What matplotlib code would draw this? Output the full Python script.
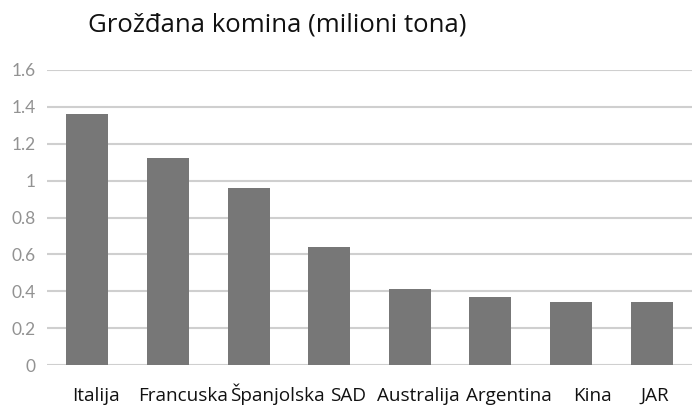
import matplotlib
matplotlib.use("Agg")
import matplotlib.pyplot as plt
import numpy as np

countries = ["Italija", "Francuska", "Španjolska", "SAD", "Australija",
             "Argentina", "Kina", "JAR"]
values = [1.36, 1.12, 0.96, 0.64, 0.41, 0.37, 0.34, 0.34]
y_ticks = [0, 0.2, 0.4, 0.6, 0.8, 1, 1.2, 1.4, 1.6]
y_tick_labels = ["0", "0.2", "0.4", "0.6", "0.8", "1", "1.2", "1.4", "1.6"]
title = "Grožđana komina (milioni tona)"

# category labels in the original sit a bit right of the bar centres
label_shift = [0.11, 0.19, 0.36, 0.23, 0.11, 0.23, 0.26, 0.04]

fig = plt.figure(figsize=(6.92, 4.05), dpi=100)
ax = fig.add_axes([47 / 692, 40 / 405, 645 / 692, 295 / 405])

x = np.arange(len(countries))
ax.bar(x, values, width=0.52, color="#777777", zorder=3)

ax.set_xlim(-0.5, len(countries) - 0.5)
ax.set_ylim(0, 1.6)
ax.set_yticks(y_ticks)
ax.set_yticklabels(y_tick_labels, fontfamily="Lato", fontsize=12.5, color="#929292")
ax.set_xticks(x + np.array(label_shift))
ax.set_xticklabels(countries, fontfamily="Open Sans", fontsize=13.6, color="#111111")
for lbl in ax.get_xticklabels():
    lbl.set_verticalalignment("baseline")
ax.tick_params(axis="y", length=0, pad=8)
ax.tick_params(axis="x", length=0, pad=26)

ax.grid(axis="y", color="#cfcfcf", linewidth=1.5, zorder=0)
ax.set_axisbelow(True)
for s in ax.spines.values():
    s.set_visible(False)

fig.text(277 / 692, 1 - 25 / 405, title, fontfamily="Open Sans", fontsize=18.5,
         ha="center", va="center", color="#111111")

fig.savefig("out.png", dpi=100)
